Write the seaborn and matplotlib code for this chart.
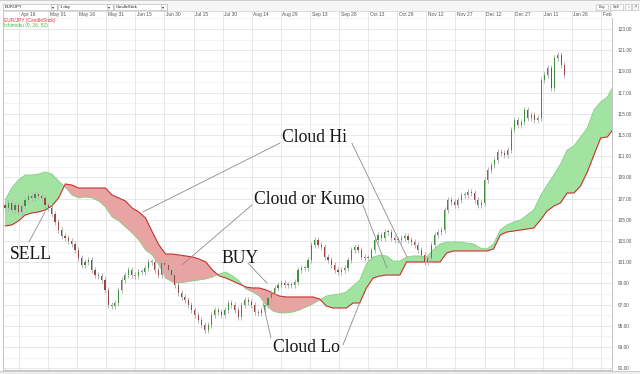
import numpy as np
import matplotlib
matplotlib.use("Agg")
import matplotlib.pyplot as plt
import matplotlib.transforms as mtrans
from matplotlib.patches import Rectangle
from matplotlib.ticker import FormatStrFormatter
import seaborn as sns

# ---------------- data ----------------
date_labels = ["Apr 16", "May 01", "May 16", "May 31", "Jun 15", "Jun 30", "Jul 15",
               "Jul 30", "Aug 14", "Aug 29", "Sep 13", "Sep 28", "Oct 13", "Oct 28",
               "Nov 12", "Nov 27", "Dec 12", "Dec 27", "Jan 11", "Jan 26", "Feb 10"]
date_days = [0, 15, 30, 45, 60, 75, 90, 105, 120, 135, 150, 165, 180, 195,
             210, 225, 240, 255, 270, 285, 300]          # days after Apr 16

price_ticks = [91, 93, 95, 97, 99, 101, 103, 105, 107, 109, 111, 113, 115, 117, 119, 121, 123]

first_open = 106.40
close = [106.11, 106.59, 105.92, 106.40, 105.74, 106.30, 106.87, 107.25, 107.06, 107.43,
         107.25, 107.06, 106.40, 106.11, 105.55, 104.79, 104.04, 103.47, 103.28, 103.00,
         102.72, 102.15, 101.40, 100.74, 101.02, 101.21, 100.26, 99.79, 99.70, 99.32,
         98.38, 96.96, 96.87, 97.15, 98.38, 99.32, 99.79, 100.26, 99.79, 99.70,
         100.08, 100.08, 100.45, 101.02, 101.02, 100.26, 99.79, 100.92, 100.74, 100.26,
         99.79, 98.85, 98.09, 97.72, 97.43, 96.96, 96.49, 96.02, 95.55, 95.07,
         94.60, 95.07, 96.02, 96.49, 96.30, 96.02, 96.49, 97.15, 96.96, 96.49,
         95.83, 96.96, 97.43, 97.25, 96.96, 96.30, 96.21, 96.49, 96.96, 97.62,
         98.09, 98.57, 98.85, 99.04, 98.85, 98.85, 98.85, 99.13, 100.26, 100.45,
         100.45, 101.21, 102.62, 103.10, 102.62, 102.44, 101.49, 101.21, 100.74, 100.26,
         100.08, 100.26, 100.45, 101.21, 102.15, 102.44, 102.15, 101.49, 101.40, 101.40,
         102.15, 103.10, 103.57, 103.28, 103.85, 103.85, 103.28, 103.10, 103.10, 103.28,
         103.47, 103.10, 102.91, 102.62, 102.15, 101.68, 101.02, 101.40, 102.62, 103.57,
         103.85, 104.04, 105.92, 106.87, 106.68, 106.40, 106.87, 107.34, 107.34, 107.62,
         107.53, 106.87, 106.40, 106.59, 108.76, 109.70, 110.17, 110.64, 111.40, 111.30,
         111.11, 111.59, 113.47, 114.42, 113.94, 114.23, 115.36, 114.60, 114.89, 114.42,
         114.60, 118.19, 118.66, 119.32, 117.43, 120.27, 120.55, 119.61, 118.66]

span_a = [106.87, 108.00, 108.76, 109.23, 109.23, 109.32, 109.51, 109.32, 108.66, 108.09,
          107.34, 107.06, 107.15, 107.06, 106.77, 106.21, 105.26, 104.89, 104.32, 103.75,
          103.09, 102.15, 101.68, 100.74, 99.51, 99.13, 99.04, 99.13, 99.23, 99.32,
          99.42, 99.60, 99.89, 100.08, 99.70, 99.23, 98.47, 98.19, 97.81, 96.96,
          96.40, 96.21, 96.21, 96.30, 96.49, 96.77, 97.06, 97.43, 97.81, 97.91,
          98.00, 98.19, 98.76, 99.32, 100.83, 101.49, 101.68, 101.59, 101.11, 101.11,
          101.49, 101.59, 101.59, 101.49, 102.15, 102.72, 102.91, 102.91, 102.91, 102.81,
          102.72, 102.34, 102.25, 102.72, 104.04, 104.51, 104.79, 104.98, 105.45, 105.92,
          107.25, 108.28, 109.23, 110.26, 111.59, 111.96, 112.81, 113.66, 115.36, 116.11,
          116.59, 117.72]
span_b = [104.42, 104.51, 104.89, 105.45, 105.64, 105.74, 105.92, 106.30, 107.06, 108.38,
          108.28, 108.00, 108.00, 108.00, 108.00, 108.00, 107.34, 107.06, 106.77, 106.11,
          105.74, 105.17, 103.85, 102.62, 101.77, 101.77, 101.68, 101.59, 101.49, 101.30,
          101.02, 100.26, 99.70, 99.51, 99.23, 98.94, 98.66, 98.57, 98.57, 98.38,
          98.09, 97.81, 97.72, 97.72, 97.72, 97.72, 97.72, 97.53, 96.87, 96.68,
          96.68, 96.68, 97.15, 97.15, 98.57, 99.51, 99.70, 99.79, 99.79, 99.79,
          101.02, 101.02, 101.02, 101.02, 101.02, 101.02, 101.87, 102.06, 102.06, 102.06,
          102.06, 102.06, 102.06, 102.25, 103.57, 103.85, 103.94, 104.04, 104.13, 104.23,
          104.98, 105.83, 106.30, 106.59, 107.53, 107.53, 108.19, 109.51, 111.11, 112.72,
          112.81, 113.66]

# ---------------- layout helpers ----------------
W, H = 640, 374
sns.set_style("white")
plt.rcParams["font.family"] = ["Liberation Sans", "DejaVu Sans"]

fig = plt.figure(figsize=(W / 100, H / 100), dpi=100)
fig.patch.set_facecolor("white")


def fx(px):
    return px / W


def fy(py):
    return 1 - py / H


def fbox(x0, y0, x1, y1, fc, ec="none", lw=0.5, z=1):
    fig.add_artist(Rectangle((fx(x0), fy(y1)), fx(x1 - x0), (y1 - y0) / H,
                             transform=fig.transFigure, facecolor=fc,
                             edgecolor=ec, linewidth=lw, zorder=z))


def ftext(x, y, s, **kw):
    fig.text(fx(x), fy(y), s, va="center", **kw)


ax = fig.add_axes([fx(3), fy(370), fx(609), 359 / H])
ax.set_facecolor("white")

# ---------------- cloud ----------------
span_a = np.array(span_a)
span_b = np.array(span_b)
kdays = -7.2 + 3.45 * np.arange(len(span_a))
ax.fill_between(kdays, span_a, span_b, where=span_a >= span_b, interpolate=True,
                color="#a2e3a2", lw=0, zorder=2)
ax.fill_between(kdays, span_a, span_b, where=span_a < span_b, interpolate=True,
                color="#e8a3a3", lw=0, zorder=2)
sns.lineplot(x=kdays, y=span_a, color="#86cf86", lw=0.6, ax=ax, zorder=3)
sns.lineplot(x=kdays, y=span_b, color="#c83030", lw=0.8, ax=ax, zorder=3)

# ---------------- candles ----------------
c = np.array(close)
o = np.r_[first_open, c[:-1]]
cdays = -7.2 + 1.7165 * np.arange(len(c))
hi = np.maximum(o, c) + 0.3
lo = np.minimum(o, c) - 0.3
up = c >= o
ax.vlines(cdays, lo, hi, color="#b4b4b4", lw=0.7, zorder=4)
body_h = np.maximum(np.abs(c - o), 0.06)
ax.bar(cdays, body_h, bottom=np.minimum(o, c), width=0.6,
       color=np.where(up, "#3f8f3f", "#9a4646"), lw=0, zorder=5)

# ---------------- axes styling ----------------
ax.set_xlim(-8.25, 305.7)
ax.set_ylim(90.83, 124.70)
ax.set_xticks(date_days)
ax.set_xticklabels(date_labels)
ax.xaxis.tick_top()
ax.tick_params(axis="x", length=0, pad=0, labelsize=3.5, labelcolor="#555555")
off = mtrans.ScaledTranslation(1.6 / 100, -3.6 / 100, fig.dpi_scale_trans)
for lbl in ax.get_xticklabels():
    lbl.set_ha("left")
    lbl.set_va("center")
    lbl.set_transform(lbl.get_transform() + off)

ax.set_yticks(price_ticks)
ax.set_yticks(np.arange(92, 125, 2), minor=True)
ax.yaxis.set_major_formatter(FormatStrFormatter("%.2f"))
ax.yaxis.tick_right()
ax.tick_params(axis="y", which="both", length=0, pad=4.3, labelsize=3.4,
               labelcolor="#555555")
ax.grid(True, which="major", color="#e3e3e3", lw=0.6)
ax.grid(True, which="minor", axis="y", color="#efefef", lw=0.5)
ax.set_axisbelow(True)
for s in ["left", "bottom", "right"]:
    ax.spines[s].set_color("#c4c4c4")
    ax.spines[s].set_linewidth(0.7)
ax.spines["top"].set_color("#d4d4d4")
ax.spines["top"].set_linewidth(0.6)
ax.set_xlabel("")
ax.set_ylabel("")

# ---------------- annotations ----------------
lc = dict(arrowstyle="-", color="#8c8c8c", lw=0.6, shrinkA=0, shrinkB=0)
ann_lines = [((134.5, 112.24), (63.9, 105.74)),
             ((171.6, 112.24), (200.0, 101.49)),
             ((120.1, 106.40), (84.0, 100.74)),
             ((177.3, 106.40), (189.7, 100.45)),
             ((118.0, 100.92), (127.8, 99.04)),
             ((129.9, 93.85), (125.8, 97.15)),
             ((167.0, 93.19), (175.8, 97.25)),
             ((5.15, 102.91), (13.4, 105.74))]
for start, end in ann_lines:
    ax.annotate("", xy=end, xytext=start, arrowprops=lc, zorder=6)

serif = dict(family=["Liberation Serif", "DejaVu Serif"], fontsize=12.7,
             color="#161616", ha="center", va="baseline", zorder=7)
ax.text(152.3, 112.34, "Cloud Hi", **serif)
ax.text(149.7, 106.49, "Cloud or Kumo", **serif)
ax.text(114.2, 100.95, "BUY", **serif)
ax.text(148.2, 92.56, "Cloud Lo", **serif)
ax.text(6.2, 101.30, "SELL", **serif)

# legend texts
ftext(4.5, 20.6, "EUR/JPY (CandleStick)", fontsize=3.5, color="#e03a3a")
ftext(4.5, 25.9, "Ichimoku (9, 26, 52)", fontsize=3.5, color="#3cbf3c")

# ---------------- toolbar ----------------
fbox(0, 0, 640, 11, "#f6f6f6", z=1)
fbox(0, 0, 640, 1.2, "#cfcfcf", z=1)
fbox(612, 11, 640, 18, "white", z=1)
for x0, x1, label in [(3, 57, "EUR/JPY"), (58, 113, "1 day"), (113.5, 167, "CandleStick")]:
    fbox(x0, 3.5, x1, 10, "white", ec="#b0b0b0", lw=0.4, z=2)
    fbox(x1 - 6.5, 3.5, x1, 10, "white", ec="#b0b0b0", lw=0.4, z=2)
    ftext(x0 + 2, 6.9, label, fontsize=3.0, color="#222222", zorder=3)
    ftext(x1 - 4.6, 7.0, "\u25be", fontsize=3.0, color="#333333", zorder=3)
for x0, x1, label in [(596, 608, "Buy"), (610, 623, "Sell"), (625, 631, "\u2195"), (632, 638, "\u2197")]:
    fbox(x0, 3.5, x1, 10, "#fafafa", ec="#b8b8b8", lw=0.4, z=2)
    fig.text(fx((x0 + x1) / 2), fy(6.9), label, fontsize=2.8, color="#444444",
             ha="center", va="center", zorder=3)

# bottom scroll strip
fbox(0, 371, 640, 374, "#eeeeee", z=1)
fbox(0, 371, 640, 371.6, "#cccccc", z=1)

fig.savefig("out.png", dpi=100, facecolor="white")
